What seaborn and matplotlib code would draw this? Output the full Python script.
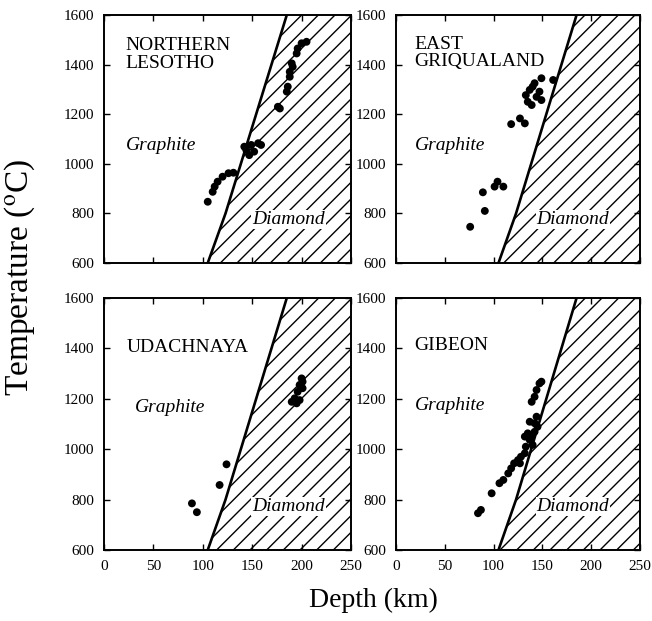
import matplotlib
matplotlib.use("Agg")
import matplotlib.pyplot as plt
import seaborn as sns
import pandas as pd

# graphite / diamond boundary (depth km, temperature C)
boundary_depth = [105, 123, 185]
boundary_temp = [600, 800, 1600]

# Northern Lesotho
lesotho_depth = [105, 110, 112, 115, 120, 126, 131, 144, 149, 156, 159, 147, 152, 142,
                 176, 178, 185, 186, 188, 188, 191, 190, 195, 196, 200, 205]
lesotho_temp = [847, 887, 908, 928, 948, 962, 964, 1056, 1076, 1083, 1076, 1035, 1049, 1069,
                1230, 1223, 1291, 1311, 1351, 1371, 1391, 1405, 1445, 1465, 1486, 1492]

# East Griqualand
griqua_depth = [76, 91, 89, 101, 104, 110, 118, 127, 132, 133, 137, 140, 135, 139, 144,
                149, 147, 142, 149, 161]
griqua_temp = [746, 810, 885, 908, 928, 908, 1160, 1183, 1163, 1277, 1298, 1311, 1250, 1237,
               1270, 1257, 1291, 1325, 1345, 1338]

# Udachnaya
udach_depth = [89, 94, 117, 124, 190, 193, 196, 198, 201, 198, 195, 201, 200]
udach_temp = [785, 750, 858, 940, 1188, 1202, 1228, 1255, 1268, 1195, 1182, 1242, 1281]

# Gibeon
gibeon_depth = [84, 87, 98, 106, 110, 115, 118, 121, 125, 128, 127, 132, 133, 132, 135,
                139, 142, 137, 140, 142, 145, 137, 144, 139, 142, 144, 147, 149]
gibeon_temp = [746, 759, 825, 865, 878, 904, 924, 944, 957, 970, 944, 984, 1010, 1050, 1063,
               1056, 1069, 1037, 1017, 1103, 1089, 1109, 1129, 1188, 1208, 1235, 1261, 1268]

panels = [
    ("NORTHERN\nLESOTHO", lesotho_depth, lesotho_temp, (22, 1442), (22, 1075), (150, 775)),
    ("EAST\nGRIQUALAND", griqua_depth, griqua_temp, (19, 1447), (19, 1075), (144, 775)),
    ("UDACHNAYA", udach_depth, udach_temp, (23, 1405), (31, 1167), (150, 772)),
    ("GIBEON", gibeon_depth, gibeon_temp, (19, 1413), (19, 1175), (144, 772)),
]

sns.set_style("ticks")
plt.rcParams["font.family"] = ["Liberation Serif", "DejaVu Serif"]
plt.rcParams["mathtext.fontset"] = "stix"
plt.rcParams["hatch.linewidth"] = 1.0
plt.rcParams["text.color"] = "black"
plt.rcParams["axes.edgecolor"] = "black"
plt.rcParams["xtick.color"] = "black"
plt.rcParams["ytick.color"] = "black"

fig = plt.figure(figsize=(6.52, 6.21), dpi=100)
W, H = 652, 621
boxes = [(104, 15, 351, 263), (396, 15, 640, 263),
         (104, 298, 351, 550), (396, 298, 640, 550)]

bnd = pd.DataFrame({"depth": boundary_depth, "temp": boundary_temp})

for i, (name, dep, tmp, name_xy, gr_xy, di_xy) in enumerate(panels):
    x0, y0, x1, y1 = boxes[i]
    ax = fig.add_axes([x0 / W, 1 - y1 / H, (x1 - x0) / W, (y1 - y0) / H])
    ax.fill_betweenx(boundary_temp, boundary_depth, 260, facecolor="none",
                     edgecolor="black", hatch="//", linewidth=0)
    sns.lineplot(data=bnd, x="depth", y="temp", sort=False, estimator=None,
                 color="black", linewidth=1.9, ax=ax)
    df = pd.DataFrame({"depth": dep, "temp": tmp})
    sns.scatterplot(data=df, x="depth", y="temp", color="black", s=32,
                    edgecolor="none", ax=ax, zorder=3)
    ax.set_xlim(0, 250)
    ax.set_ylim(600, 1600)
    ax.set_xticks([0, 50, 100, 150, 200, 250])
    ax.set_yticks([600, 800, 1000, 1200, 1400, 1600])
    ax.tick_params(direction="in", top=True, right=True, length=4, width=1,
                   labelsize=11, pad=7)
    if i < 2:
        ax.tick_params(labelbottom=False)
    ax.set_xlabel("")
    ax.set_ylabel("")
    for sp in ax.spines.values():
        sp.set_linewidth(1.4)
    ax.text(name_xy[0], name_xy[1], name, fontsize=14, va="center", ha="left",
            linespacing=1.05)
    ax.text(gr_xy[0], gr_xy[1], "Graphite", fontsize=14, style="italic",
            va="center", ha="left")
    ax.text(di_xy[0], di_xy[1], "Diamond", fontsize=14, style="italic",
            va="center", ha="left",
            bbox=dict(facecolor="white", edgecolor="none", pad=0.5))

fig.text(20 / W, 1 - 277 / H, r"Temperature ($^{\mathrm{o}}$C)", rotation=90,
         fontsize=24, va="center", ha="center")
fig.text(373 / W, 1 - 600 / H, "Depth (km)", fontsize=20, va="center", ha="center")

fig.savefig("out.png", dpi=100)
